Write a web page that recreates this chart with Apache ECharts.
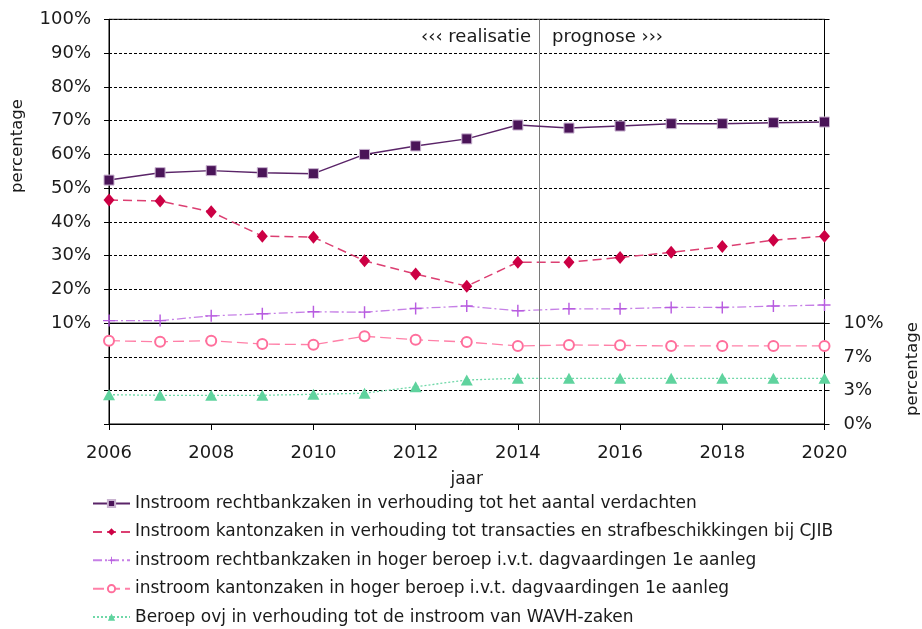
<!DOCTYPE html>
<html>
<head>
<meta charset="utf-8">
<title>Instroom percentages 2006-2020</title>
<script src="https://cdn.jsdelivr.net/npm/echarts@6/dist/echarts.min.js"></script>
<style>
  html, body { margin: 0; padding: 0; background: #ffffff; }
  #chart { width: 922px; height: 629px; }
</style>
</head>
<body>
<div id="chart"></div>
<script>
// Years on the horizontal axis
const years = [2006, 2007, 2008, 2009, 2010, 2011, 2012, 2013, 2014, 2015, 2016, 2017, 2018, 2019, 2020];

// Upper panel (left axis, 10%-100%)
const rechtbankVerdachten = [52.4, 54.6, 55.2, 54.6, 54.3, 60.0, 62.5, 64.6, 68.7, 67.8, 68.4, 69.1, 69.1, 69.4, 69.6];
const kantonCJIB          = [46.5, 46.2, 43.0, 35.8, 35.5, 28.5, 24.6, 21.0, 28.1, 28.1, 29.5, 31.0, 32.7, 34.6, 35.8];
const rechtbankHogerBeroep = [10.8, 10.8, 12.2, 12.8, 13.4, 13.3, 14.4, 15.1, 13.7, 14.3, 14.3, 14.7, 14.7, 15.1, 15.4];

// Lower panel (right axis, 0%-10%)
const kantonHogerBeroep = [8.27, 8.17, 8.27, 7.94, 7.88, 8.71, 8.37, 8.14, 7.75, 7.85, 7.81, 7.75, 7.75, 7.75, 7.75];
const beroepOvj         = [2.91, 2.85, 2.85, 2.85, 2.95, 3.05, 3.70, 4.37, 4.54, 4.54, 4.54, 4.54, 4.54, 4.54, 4.54];

// Series names as shown in the legend
const seriesNames = [
  'Instroom rechtbankzaken in verhouding tot het aantal verdachten',
  'Instroom kantonzaken in verhouding tot transacties en strafbeschikkingen bij CJIB',
  'instroom rechtbankzaken in hoger beroep i.v.t. dagvaardingen 1e aanleg',
  'instroom kantonzaken in hoger beroep i.v.t. dagvaardingen 1e aanleg',
  'Beroep ovj in verhouding tot de instroom van WAVH-zaken'
];

// Axis tick labels
const lowerTickLabels = ['0%', '3%', '7%', '10%'];
// Boundary between realised figures and forecast
const forecastBoundary = 2014.42;

const FONT = 'DejaVu Sans';
const pairs = arr => arr.map((v, i) => [years[i], v]);

const gridLeft = 109, gridRight = 97.5;
const dashGrid = { show: true, lineStyle: { color: '#000', type: [3, 2], width: 1 } };
const blackLine = { show: true, lineStyle: { color: '#000', width: 1 } };
const tickStyle = { show: true, length: 5, lineStyle: { color: '#000' } };
const labelStyle = { fontFamily: FONT, fontSize: 18, color: '#1a1a1a' };

const plusPath = 'path://M4.4,0h1.2v10h-1.2zM0,4.4h10v1.2h-10z';

const dividerLine = {
  silent: true,
  symbol: ['none', 'none'],
  label: { show: false },
  lineStyle: { color: '#7a7a7a', type: 'solid', width: 1 },
  data: [{ xAxis: forecastBoundary }]
};

const chart = echarts.init(document.getElementById('chart'), null, { renderer: 'canvas' });

chart.setOption({
  backgroundColor: '#ffffff',
  animation: false,
  grid: [
    { left: gridLeft, right: gridRight, top: 19.3, height: 304, show: true, borderColor: '#000', borderWidth: 1, backgroundColor: 'transparent' },
    { left: gridLeft, right: gridRight, top: 323.3, height: 100.7, show: true, borderColor: '#000', borderWidth: 1, backgroundColor: 'transparent' }
  ],
  xAxis: [
    {
      gridIndex: 0, type: 'value', min: 2006, max: 2020, interval: 2,
      axisLine: blackLine, axisTick: { show: false }, axisLabel: { show: false }, splitLine: { show: false }
    },
    {
      gridIndex: 1, type: 'value', min: 2006, max: 2020, interval: 2,
      axisLine: blackLine,
      axisTick: { show: true, length: 6, lineStyle: { color: '#000' } },
      axisLabel: Object.assign({ margin: 20, formatter: v => String(v) }, labelStyle),
      splitLine: { show: false },
      name: 'jaar', nameLocation: 'middle', nameGap: 47,
      nameTextStyle: { fontFamily: FONT, fontSize: 17, color: '#1a1a1a' }
    }
  ],
  yAxis: [
    {
      gridIndex: 0, type: 'value', min: 10, max: 100, interval: 10, position: 'left',
      axisLine: blackLine, axisTick: tickStyle,
      axisLabel: Object.assign({ margin: 18, formatter: v => v + '%' }, labelStyle),
      splitLine: dashGrid
    },
    {
      gridIndex: 0, type: 'value', min: 10, max: 100, interval: 10, position: 'right',
      axisLine: blackLine, axisTick: tickStyle, axisLabel: { show: false }, splitLine: { show: false }
    },
    {
      gridIndex: 1, type: 'value', min: 0, max: 10, interval: 10 / 3, position: 'left',
      axisLine: blackLine, axisTick: tickStyle, axisLabel: { show: false }, splitLine: dashGrid
    },
    {
      gridIndex: 1, type: 'value', min: 0, max: 10, interval: 10 / 3, position: 'right',
      axisLine: blackLine, axisTick: tickStyle,
      axisLabel: Object.assign({ margin: 19, formatter: (v, i) => lowerTickLabels[i] }, labelStyle),
      splitLine: { show: false }
    }
  ],
  legend: {
    orient: 'vertical', left: 92, top: 495, padding: 0,
    itemWidth: 37, itemHeight: 9, itemGap: 11.4,
    textStyle: { fontFamily: FONT, fontSize: 17, color: '#1a1a1a', lineHeight: 17 },
    data: seriesNames
  },
  graphic: [
    { type: 'text', x: 18, y: 146, rotation: Math.PI / 2,
      style: { text: 'percentage', fontFamily: FONT, fontSize: 16.5, fill: '#1a1a1a', align: 'center', verticalAlign: 'middle' } },
    { type: 'text', x: 913, y: 369, rotation: Math.PI / 2,
      style: { text: 'percentage', fontFamily: FONT, fontSize: 16.5, fill: '#1a1a1a', align: 'center', verticalAlign: 'middle' } },
    { type: 'text', x: 531, y: 37,
      style: { text: '\u2039\u2039\u2039 realisatie', fontFamily: FONT, fontSize: 18, fill: '#1a1a1a', align: 'right', verticalAlign: 'middle' } },
    { type: 'text', x: 552, y: 37,
      style: { text: 'prognose \u203a\u203a\u203a', fontFamily: FONT, fontSize: 18, fill: '#1a1a1a', align: 'left', verticalAlign: 'middle' } }
  ],
  series: [
    {
      name: seriesNames[0], type: 'line', xAxisIndex: 0, yAxisIndex: 0,
      data: pairs(rechtbankVerdachten),
      symbol: 'rect', symbolSize: 10,
      lineStyle: { color: '#5a2468', width: 1.5 },
      itemStyle: { color: '#4a1458', borderColor: '#c9b3d0', borderWidth: 1 },
      markLine: dividerLine, z: 5
    },
    {
      name: seriesNames[1], type: 'line', xAxisIndex: 0, yAxisIndex: 0,
      data: pairs(kantonCJIB),
      symbol: 'diamond', symbolSize: [11, 13],
      lineStyle: { color: '#dc3f72', width: 1.5, type: [9, 5] },
      itemStyle: { color: '#cc0044' }, z: 4
    },
    {
      name: seriesNames[2], type: 'line', xAxisIndex: 0, yAxisIndex: 0,
      data: pairs(rechtbankHogerBeroep),
      symbol: plusPath, symbolSize: 12,
      lineStyle: { color: '#c680e6', width: 1.3, type: [9, 3, 2, 3] },
      itemStyle: { color: '#b85ce0' }, z: 3
    },
    {
      name: seriesNames[3], type: 'line', xAxisIndex: 1, yAxisIndex: 3,
      data: pairs(kantonHogerBeroep),
      symbol: 'emptyCircle', symbolSize: 10,
      lineStyle: { color: '#ff80a8', width: 1.3, type: [11, 5] },
      itemStyle: { color: '#ff6f9c', borderWidth: 1.2 },
      markLine: dividerLine, z: 4
    },
    {
      name: seriesNames[4], type: 'line', xAxisIndex: 1, yAxisIndex: 3,
      data: pairs(beroepOvj),
      symbol: 'triangle', symbolSize: [12, 11],
      lineStyle: { color: '#6fd8a8', width: 1.3, type: [2, 2] },
      itemStyle: { color: '#5fd39e' }, z: 3
    }
  ]
});
</script>
</body>
</html>
